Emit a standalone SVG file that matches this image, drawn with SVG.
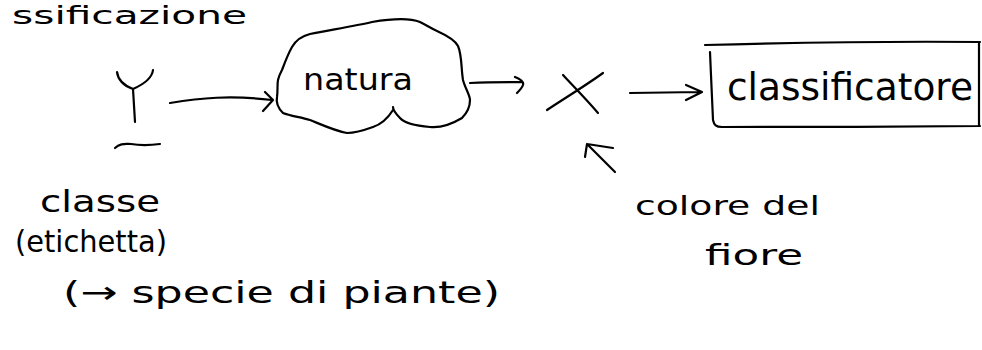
<svg xmlns="http://www.w3.org/2000/svg" width="982" height="350" viewBox="0 0 982 350">
<style>
.ink{fill:none;stroke:#000;stroke-width:2.2;stroke-linecap:round;stroke-linejoin:round}
.t{font-family:"DejaVu Sans","Liberation Sans",sans-serif;fill:#000}
</style>
<rect width="982" height="350" fill="#fff"/>
<text id="title" class="t" x="12" y="24" font-size="25" textLength="235" lengthAdjust="spacingAndGlyphs">ssificazione</text>
<g id="node-Y">
<path class="ink" d="M117,72 C118,80 125,86 133,89 M153,70 C152,79 142,85 133,89 L135,122"/>
<path class="ink" d="M115,148 C120,143 125,144 131,144 C137,145 145,146 160,144"/>
</g>
<g id="node-natura">
<path class="ink" d="M292,47 C296,40 302,36 310,34 C330,30 355,26 372,22 C390,19 410,18 420,22 C428,26 432,29 437,31 C448,36 455,40 458,46 C462,55 461,68 463,80 C465,88 470,95 470,100 C470,108 467,113 462,118 C452,124 440,128 430,127 C418,126 405,124 400,118 C396,114 393,110 393,107 M393,110 C388,118 382,124 373,127 C362,131 355,133 347,133 C335,131 320,124 310,120 C300,117 290,116 283,113 C278,108 276,102 277,97 C278,90 277,85 278,80 C279,75 281,72 282,70 C285,62 288,54 292,47"/>
<text class="t" x="303" y="90" font-size="30" textLength="110" lengthAdjust="spacingAndGlyphs">natura</text>
</g>
<g id="node-X">
<path class="ink" d="M547,110 C565,98 585,86 603,73 M563,75 C575,88 587,100 598,113"/>
</g>
<g id="node-classificatore">
<path class="ink" d="M705,45 C780,43 880,41 980,42 M710,52 C711,75 712,100 713,120 C714,125 716,127 722,127 C800,127 900,127 980,126 M979,42 L979,126"/>
<text class="t" x="727" y="100" font-size="37" textLength="246" lengthAdjust="spacingAndGlyphs">classificatore</text>
</g>
<g id="connectors">
<path class="ink" d="M170,103 C200,98 230,95 272,100 M265,92 L273,100 L263,111"/>
<path class="ink" d="M470,83 C490,82 505,82 522,82 M515,77 C520,79 524,82 523,85 C522,88 519,91 517,93"/>
<path class="ink" d="M630,93 L700,92 M686,85 L702,92 L686,100"/>
<path class="ink" d="M615,172 L587,144 M587,144 L613,148 M587,144 L585,157"/>
</g>
<g id="label-classe">
<text class="t" x="40" y="212" font-size="31" textLength="120" lengthAdjust="spacingAndGlyphs">classe</text>
<text class="t" x="15" y="252" font-size="31" textLength="152" lengthAdjust="spacingAndGlyphs">(etichetta)</text>
<text class="t" x="63" y="303" font-size="31" textLength="437" lengthAdjust="spacingAndGlyphs">(→ specie di piante)</text>
</g>
<g id="label-colore">
<text class="t" x="635" y="215" font-size="27" textLength="185" lengthAdjust="spacingAndGlyphs">colore del</text>
<text class="t" x="705" y="265" font-size="29" textLength="98" lengthAdjust="spacingAndGlyphs">fiore</text>
</g>
</svg>
